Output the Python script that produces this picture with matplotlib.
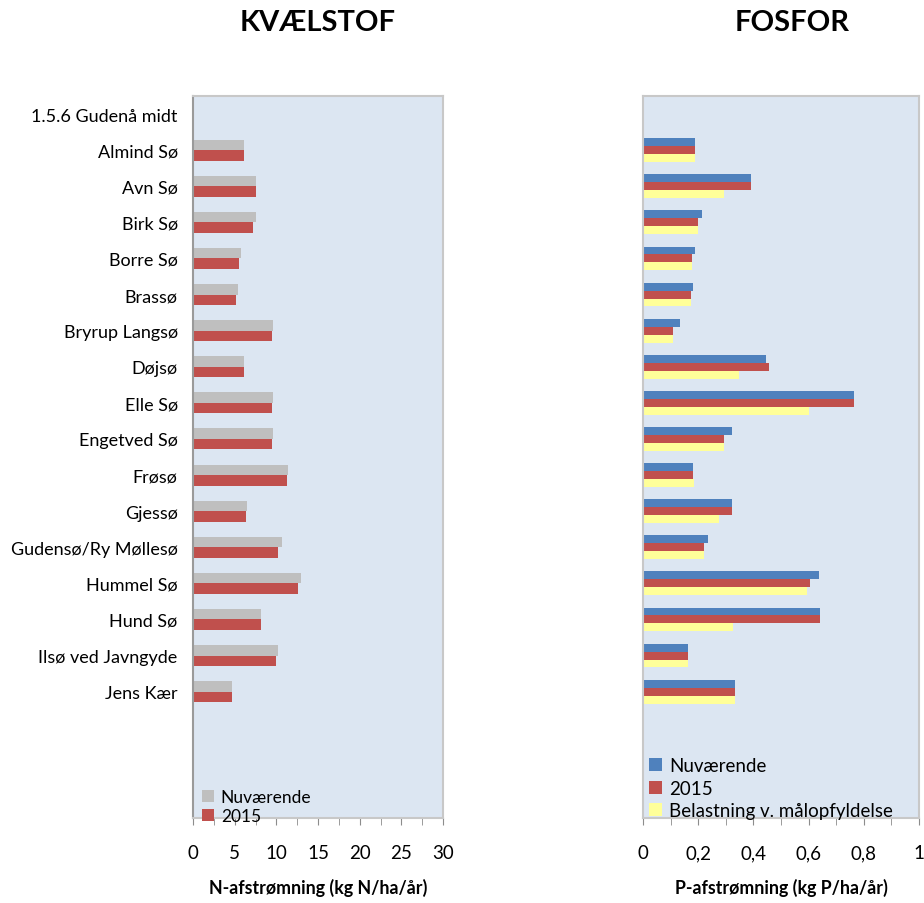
import numpy as np
import matplotlib
matplotlib.use('Agg')
import matplotlib.pyplot as plt
from matplotlib.ticker import FixedLocator, FuncFormatter

plt.rcParams['font.family'] = ['Lato', 'DejaVu Sans']

# kategorier (tomme pladser i bunden giver plads til legenden)
omraade = "1.5.6 Gudenå midt"
soer = ["Almind Sø", "Avn Sø", "Birk Sø", "Borre Sø", "Brassø", "Bryrup Langsø",
        "Døjsø", "Elle Sø", "Engetved Sø", "Frøsø", "Gjessø", "Gudensø/Ry Møllesø",
        "Hummel Sø", "Hund Sø", "Ilsø ved Javngyde", "Jens Kær"]
labels = [omraade] + soer + ["", "", ""]

# kvælstof, kg N/ha/år
n_nu = [6.15, 7.6, 7.6, 5.8, 5.45, 9.65, 6.15, 9.65, 9.65, 11.45, 6.5, 10.7, 12.9, 8.1, 10.25, 4.7]
n_2015 = [6.15, 7.6, 7.25, 5.55, 5.2, 9.5, 6.15, 9.5, 9.5, 11.3, 6.3, 10.25, 12.65, 8.1, 9.9, 4.7]

# fosfor, kg P/ha/år
p_nu = [0.19, 0.39, 0.215, 0.19, 0.182, 0.135, 0.447, 0.766, 0.324, 0.182, 0.324, 0.237, 0.639, 0.643, 0.164, 0.335]
p_2015 = [0.19, 0.39, 0.2, 0.179, 0.175, 0.11, 0.458, 0.766, 0.295, 0.182, 0.324, 0.222, 0.606, 0.643, 0.164, 0.335]
p_maal = [0.19, 0.295, 0.2, 0.179, 0.175, 0.11, 0.349, 0.603, 0.295, 0.186, 0.277, 0.222, 0.595, 0.327, 0.164, 0.335]

GRAA = '#BFBFBF'
ROED = '#C0504D'
BLAA = '#4F81BD'
GUL = '#FFFF99'
BG = '#DCE6F2'

W, H = 924, 904
fig = plt.figure(figsize=(W / 100, H / 100), dpi=100)

def fx(px):
    return px / W

def fy(py):
    return 1 - py / H

ax1 = fig.add_axes([fx(193), fy(819), fx(443 - 193), (819 - 97) / H])
ax2 = fig.add_axes([fx(643), fy(819), fx(919 - 643), (819 - 97) / H])

y = np.arange(1, len(soer) + 1)

# venstre: kvælstof
h1 = 0.29
ax1.barh(y - h1 / 2, n_nu, height=h1, color=GRAA, label='Nuværende')
ax1.barh(y + h1 / 2, n_2015, height=h1, color=ROED, label='2015')
ax1.set_xlim(0, 30)
ax1.xaxis.set_major_locator(FixedLocator(np.arange(0, 31, 5)))
ax1.xaxis.set_minor_locator(FixedLocator(np.arange(2.5, 30, 5)))
ax1.set_xlabel('N-afstrømning (kg N/ha/år)', fontsize=12.8, fontweight='bold', labelpad=12)

# højre: fosfor
h2 = 0.22
ax2.barh(y - h2, p_nu, height=h2, color=BLAA, label='Nuværende')
ax2.barh(y, p_2015, height=h2, color=ROED, label='2015')
ax2.barh(y + h2, p_maal, height=h2, color=GUL, label='Belastning v. målopfyldelse')
ax2.set_xlim(0, 1)
ax2.xaxis.set_major_locator(FixedLocator(np.arange(0, 1.01, 0.2)))
ax2.xaxis.set_minor_locator(FixedLocator(np.arange(0.1, 1.0, 0.2)))
ax2.xaxis.set_major_formatter(FuncFormatter(lambda v, p: ('%g' % round(v, 1)).replace('.', ',')))
ax2.set_xlabel('P-afstrømning (kg P/ha/år)', fontsize=12.8, fontweight='bold', labelpad=12)

for ax in (ax1, ax2):
    ax.set_facecolor(BG)
    ax.set_ylim(len(labels) - 0.5, -0.5)
    ax.set_yticks(np.arange(len(labels)))
    for s in ax.spines.values():
        s.set_color('#C8C8C8')
        s.set_linewidth(1.5)
    ax.tick_params(axis='x', which='both', direction='out', length=5, color='#8C8C8C',
                   labelsize=13.5, pad=14)
    ax.tick_params(axis='y', length=0)

ax1.set_yticklabels(labels, fontsize=13)
ax1.tick_params(axis='y', pad=11)
ax1.spines['left'].set_color('#9A9A9A')
ax2.set_yticklabels([])

fig.text(fx(318), fy(23), 'KVÆLSTOF', fontsize=21, fontweight='bold', ha='center', va='center')
fig.text(fx(792), fy(23), 'FOSFOR', fontsize=21, fontweight='bold', ha='center', va='center')

ax1.legend(loc='lower left', bbox_to_anchor=(0.035, -0.008), frameon=False, fontsize=12.5,
           handlelength=0.7, handleheight=0.7, handletextpad=0.4, labelspacing=0.15,
           borderpad=0, borderaxespad=0)
ax2.legend(loc='lower left', bbox_to_anchor=(0.02, -0.002), frameon=False, fontsize=13.5,
           handlelength=0.7, handleheight=0.7, handletextpad=0.4, labelspacing=0.3,
           borderpad=0, borderaxespad=0)

fig.savefig('out.png', dpi=100)
